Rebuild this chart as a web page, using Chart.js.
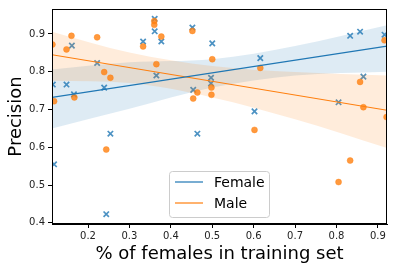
<!DOCTYPE html>
<html>
<head>
<meta charset="utf-8">
<script src="https://cdn.jsdelivr.net/npm/chart.js@4/dist/chart.umd.min.js"></script>
<style>
  html, body { margin: 0; padding: 0; background: #fff; }
  #wrap { width: 394px; height: 270px; }
</style>
</head>
<body>
<div id="wrap"><canvas id="grafico"></canvas></div>
<script>
// scatter values
const femaleX = [0.115, 0.118, 0.148, 0.161, 0.166, 0.222, 0.239, 0.244, 0.254, 0.333, 0.361, 0.361, 0.365, 0.377,
                 0.452, 0.454, 0.464, 0.497, 0.497, 0.500, 0.602, 0.616, 0.805, 0.833, 0.857, 0.865, 0.916];
const femaleY = [0.766, 0.555, 0.766, 0.869, 0.740, 0.823, 0.758, 0.423, 0.636, 0.880, 0.940, 0.907, 0.790, 0.880,
                 0.917, 0.752, 0.636, 0.784, 0.769, 0.875, 0.695, 0.836, 0.719, 0.895, 0.906, 0.787, 0.898];
const maleX = [0.114, 0.118, 0.148, 0.160, 0.167, 0.222, 0.239, 0.244, 0.254, 0.333, 0.360, 0.360, 0.365, 0.377,
               0.452, 0.454, 0.464, 0.498, 0.498, 0.500, 0.602, 0.616, 0.805, 0.833, 0.857, 0.865, 0.916, 0.921];
const maleY = [0.872, 0.722, 0.859, 0.895, 0.732, 0.891, 0.799, 0.594, 0.784, 0.867, 0.934, 0.924, 0.820, 0.893,
               0.908, 0.729, 0.745, 0.758, 0.739, 0.833, 0.646, 0.810, 0.508, 0.565, 0.773, 0.706, 0.883, 0.680];

// regression lines
const fitX = [0.113, 0.922];
const femaleFit = [0.732, 0.868];
const maleFit = [0.845, 0.698];

// confidence bands
const bandX = [0.113, 0.3, 0.5, 0.7, 0.922];
const femaleUpper = [0.806, 0.825, 0.833, 0.868, 0.923];
const femaleLower = [0.650, 0.702, 0.758, 0.790, 0.800];
const maleUpper = [0.906, 0.851, 0.815, 0.799, 0.790];
const maleLower = [0.776, 0.770, 0.732, 0.674, 0.598];

const xTicks = [0.2, 0.3, 0.4, 0.5, 0.6, 0.7, 0.8, 0.9];
const yTicks = [0.4, 0.5, 0.6, 0.7, 0.8, 0.9];

const BLUE = '#1f77b4';
const ORANGE = '#ff7f0e';
const FONT = "'DejaVu Sans', sans-serif";

function pts(xs, ys) {
    return xs.map((x, i) => ({ x: x, y: ys[i] }));
}

function bandPair(upper, lower, color, order) {
    return [
        {
            type: 'line', data: pts(bandX, lower), borderWidth: 0, pointRadius: 0,
            borderColor: 'rgba(0,0,0,0)', fill: false, order: order, cubicInterpolationMode: 'monotone'
        },
        {
            type: 'line', data: pts(bandX, upper), borderWidth: 0, pointRadius: 0,
            borderColor: 'rgba(0,0,0,0)', backgroundColor: color, fill: '-1', order: order,
            cubicInterpolationMode: 'monotone'
        }
    ];
}

const moldura = {
    id: 'moldura',
    afterDraw(chart) {
        const ctx = chart.ctx;
        const a = chart.chartArea;
        ctx.save();
        ctx.strokeStyle = '#000';
        ctx.lineWidth = 1;
        ctx.strokeRect(Math.round(a.left) + 0.5, Math.round(a.top) + 0.5,
            Math.round(a.right - a.left) - 1, Math.round(a.bottom - a.top) - 1);

        // legenda
        const lx = 169.5, ly = 171.5, lw = 100, lh = 46;
        ctx.beginPath();
        ctx.roundRect(lx, ly, lw, lh, 3);
        ctx.fillStyle = 'rgba(255,255,255,0.8)';
        ctx.fill();
        ctx.strokeStyle = '#cccccc';
        ctx.stroke();
        const itens = [['Female', BLUE, 182], ['Male', ORANGE, 203]];
        ctx.font = '14px ' + FONT;
        ctx.textBaseline = 'middle';
        itens.forEach(([label, cor, y]) => {
            ctx.beginPath();
            ctx.moveTo(175, y);
            ctx.lineTo(203, y);
            ctx.strokeStyle = cor;
            ctx.lineWidth = 1.2;
            ctx.stroke();
            ctx.fillStyle = '#000';
            ctx.fillText(label, 214, y + 1);
        });
        ctx.restore();
    }
};

new Chart(document.getElementById('grafico'), {
    type: 'scatter',
    data: {
        datasets: [
            {
                type: 'line', label: 'Female', data: pts(fitX, femaleFit), borderColor: BLUE,
                borderWidth: 1.2, pointRadius: 0, fill: false, order: 0
            },
            {
                type: 'line', label: 'Male', data: pts(fitX, maleFit), borderColor: ORANGE,
                borderWidth: 1.2, pointRadius: 0, fill: false, order: 1
            },
            ...bandPair(maleUpper, maleLower, 'rgba(255,127,14,0.15)', 2),
            {
                label: 'Male pts', data: pts(maleX, maleY), pointStyle: 'circle', pointRadius: 3,
                backgroundColor: 'rgba(255,127,14,0.8)', borderColor: 'rgba(255,127,14,0.8)', borderWidth: 0.5,
                order: 3, clip: 0
            },
            ...bandPair(femaleUpper, femaleLower, 'rgba(31,119,180,0.15)', 4),
            {
                label: 'Female pts', data: pts(femaleX, femaleY), pointStyle: 'crossRot', pointRadius: 3.8,
                borderColor: 'rgba(31,119,180,0.8)', borderWidth: 1.7,
                order: 5, clip: 0
            }
        ]
    },
    options: {
        responsive: true,
        maintainAspectRatio: false,
        animation: false,
        layout: { padding: { top: 6, right: 7, left: 0, bottom: 0 } },
        plugins: {
            legend: { display: false },
            tooltip: { enabled: false }
        },
        scales: {
            x: {
                type: 'linear', min: 0.113, max: 0.922,
                afterFit: (scale) => { scale.height = 46; },
                afterBuildTicks: (scale) => { scale.ticks = xTicks.map(v => ({ value: v })); },
                grid: { drawOnChartArea: false, drawTicks: true, tickLength: 4, color: '#000' },
                border: { color: '#000' },
                ticks: {
                    padding: 2, color: '#222', font: { family: FONT, size: 10 },
                    callback: (v) => v.toFixed(1)
                },
                title: {
                    display: true, text: '% of females in training set', color: '#000',
                    font: { family: FONT, size: 18 }, padding: { top: 0, bottom: 5 }
                }
            },
            y: {
                type: 'linear', min: 0.397, max: 0.966,
                afterFit: (scale) => { scale.width = 52; },
                afterBuildTicks: (scale) => { scale.ticks = yTicks.map(v => ({ value: v })); },
                grid: { drawOnChartArea: false, drawTicks: true, tickLength: 4, color: '#000' },
                border: { color: '#000' },
                ticks: {
                    padding: 3, color: '#222', font: { family: FONT, size: 10 },
                    callback: (v) => v.toFixed(1)
                },
                title: {
                    display: true, text: 'Precision', color: '#000',
                    font: { family: FONT, size: 18 }, padding: { top: 6, bottom: 0 }
                }
            }
        }
    },
    plugins: [moldura]
});
</script>
</body>
</html>
